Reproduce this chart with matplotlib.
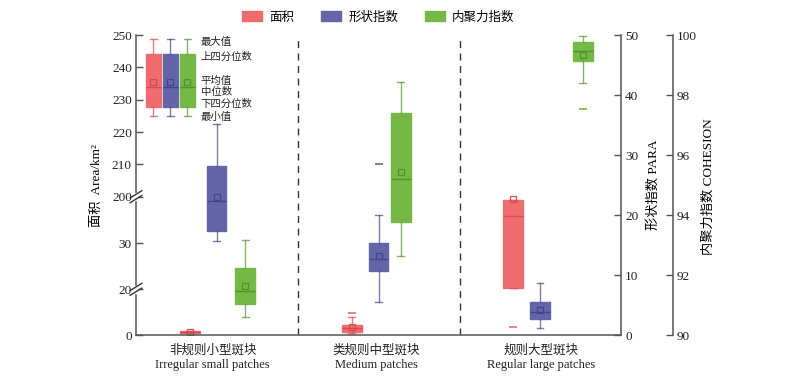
"""Box plots of patch area / PARA / COHESION for three patch types."""
import numpy as np
import matplotlib
matplotlib.use("Agg")
import matplotlib.pyplot as plt
from matplotlib.patches import Patch

plt.rcParams['font.family'] = ['Liberation Serif', 'Noto Sans CJK SC']

groups = ['非规则小型斑块\nIrregular small patches',
          '类规则中型斑块\nMedium patches',
          '规则大型斑块\nRegular large patches']

# 面积 Area (km2)
area_min = [0.9, 0.9, 20.2]
area_q1 = [1.0, 1.45, 20.2]
area_med = [1.3, 2.9, 129.6]
area_mean = [1.3, 3.4, 190.5]
area_q3 = [1.6, 4.4, 188.0]
area_max = [1.8, 8.0, 188.0]
area_out = [[], [9.8], [3.6]]

# 形状指数 PARA
para_min = [15.7, 5.5, 1.1]
para_q1 = [17.4, 10.7, 2.67]
para_med = [22.3, 12.7, 3.78]
para_mean = [23.05, 13.2, 4.17]
para_q3 = [28.2, 15.4, 5.5]
para_max = [35.1, 20.05, 8.6]
para_out = [[], [28.5], []]

# 内聚力指数 COHESION
coh_min = [90.59, 92.62, 98.41]
coh_q1 = [91.04, 93.77, 99.13]
coh_med = [91.48, 95.19, 99.47]
coh_mean = [91.64, 95.43, 99.33]
coh_q3 = [92.24, 97.41, 99.76]
coh_max = [93.17, 98.44, 99.98]
coh_out = [[], [], [97.54]]

# explanatory key box (drawn on the area axis)
key_stats = [224.9, 227.8, 234.0, 235.5, 244.0, 248.7]
key_labels = ['最大值', '上四分位数', '平均值', '中位数', '下四分位数', '最小值']
key_label_y = [247.8, 243.3, 235.8, 232.3, 228.6, 224.7]

# layout
pos_red = [1.11, 4.45, 7.78]
pos_blue = [1.66, 5.0, 8.33]
pos_green = [2.25, 5.46, 9.21]
pos_key = [0.36, 0.71, 1.06]
group_x = [1.58, 4.95, 8.36]
sep_x = [3.35, 6.68]

RED, RED_D = '#ee6b6e', '#d24c50'
BLUE, BLUE_D = '#6465a6', '#44448c'
GREEN, GREEN_D = '#76b845', '#52922c'

# broken left axis: piecewise linear value -> pixel height
BRK_V = [0, 20, 30, 200, 250]
BRK_P = [0, 45.7, 91.7, 138.3, 300]


def _pw(v, xs, ys):
    v = np.asarray(v, float)
    out = np.interp(v, xs, ys)
    out = np.where(v < xs[0], ys[0] + (v - xs[0]) * (ys[1] - ys[0]) / (xs[1] - xs[0]), out)
    out = np.where(v > xs[-1], ys[-1] + (v - xs[-1]) * (ys[-1] - ys[-2]) / (xs[-1] - xs[-2]), out)
    return out


def fwd(v):
    return _pw(v, BRK_V, BRK_P)


def inv(p):
    return _pw(p, BRK_P, BRK_V)


def make_stats(lo, q1, med, mean, q3, hi, out):
    return [dict(whislo=a, q1=b, med=c, mean=d, q3=e, whishi=f, fliers=g)
            for a, b, c, d, e, f, g in zip(lo, q1, med, mean, q3, hi, out)]


def draw(axis, stats, pos, color, dark, width=0.41):
    axis.bxp(stats, positions=pos, widths=width, capwidths=0.14,
             patch_artist=True, showmeans=True, manage_ticks=False,
             boxprops=dict(facecolor=color, edgecolor=color, lw=1.0),
             medianprops=dict(color=dark, lw=1.0),
             whiskerprops=dict(color=dark, lw=1.0, alpha=0.7),
             capprops=dict(color=dark, lw=1.0, alpha=0.7),
             flierprops=dict(marker='_', markeredgecolor=color, markersize=6, mew=1.2),
             meanprops=dict(marker='s', markerfacecolor='none',
                            markeredgecolor=dark, markersize=4.5, mew=0.9))


fig = plt.figure(figsize=(8, 3.81), dpi=100)
ax = fig.add_axes([0.17, 0.1207, 0.6063, 0.7874])
ax2 = ax.twinx()
ax3 = ax.twinx()

ax.set_yscale('function', functions=(fwd, inv))
ax.set_ylim(0, 250)
ax.set_yticks([0, 20, 30, 200, 210, 220, 230, 240, 250])
ax.yaxis.set_minor_locator(matplotlib.ticker.NullLocator())
ax.set_xlim(0, 10)
ax2.set_ylim(0, 50)
ax2.set_yticks(range(0, 51, 10))
ax3.set_ylim(90, 100)
ax3.set_yticks(range(90, 101, 2))
ax3.spines['right'].set_position(('axes', 1.107))

spine_c = '#555555'
for a in (ax, ax2, ax3):
    a.spines['top'].set_visible(False)
    for s in a.spines.values():
        s.set_color(spine_c)
        s.set_linewidth(1.1)
    a.tick_params(axis='y', direction='in', length=5, width=1.0, color=spine_c,
                  labelsize=9.5, labelcolor='#222222', pad=3)
for a in (ax2, ax3):
    a.spines['left'].set_visible(False)
    a.spines['bottom'].set_visible(False)
ax.spines['right'].set_visible(False)

ax.set_xticks(group_x)
ax.set_xticklabels(groups, fontsize=9, linespacing=1.2, color='#222222')
ax.tick_params(axis='x', length=0, pad=7)

for x in sep_x:
    ax.axvline(x, color='#333333', lw=1.0, ls=(0, (5, 4)), zorder=0)

# data boxes
draw(ax, make_stats(area_min, area_q1, area_med, area_mean, area_q3, area_max, area_out),
     pos_red, RED, RED_D)
draw(ax2, make_stats(para_min, para_q1, para_med, para_mean, para_q3, para_max, para_out),
     pos_blue, BLUE, BLUE_D)
draw(ax3, make_stats(coh_min, coh_q1, coh_med, coh_mean, coh_q3, coh_max, coh_out),
     pos_green, GREEN, GREEN_D)

# key boxes
k = make_stats(*[[v] for v in key_stats], [[]])
for p, c, d in zip(pos_key, (RED, BLUE, GREEN), (RED_D, BLUE_D, GREEN_D)):
    draw(ax, k, [p], c, d, width=0.31)
for lab, y in zip(key_labels, key_label_y):
    ax.text(1.33, y, lab, fontsize=7.5, va='center', ha='left', color='#222222')

# break marks on the left spine
for yb in (20, 200):
    ya = float(fwd(yb)) / 300.0
    g = 0.008
    ax.plot([0, 0], [ya - g, ya + g], color='white', lw=2.5,
            transform=ax.transAxes, clip_on=False, zorder=5)
    for dy in (-g, g):
        ax.plot([-0.012, 0.012], [ya + dy - 0.012, ya + dy + 0.012], color='#333333',
                lw=1.0, transform=ax.transAxes, clip_on=False, zorder=6)

fig.text(0.121, 0.514, '面积  Area/km²', rotation=90, ha='center', va='center', fontsize=9.5)
fig.text(0.816, 0.514, '形状指数 PARA', rotation=90, ha='center', va='center', fontsize=9.5)
fig.text(0.885, 0.51, '内聚力指数 COHESION', rotation=90, ha='center', va='center', fontsize=9.5)

handles = [Patch(facecolor=RED, edgecolor=RED, label='面积'),
           Patch(facecolor=BLUE, edgecolor=BLUE, label='形状指数'),
           Patch(facecolor=GREEN, edgecolor=GREEN, label='内聚力指数')]
fig.legend(handles=handles, loc='center', bbox_to_anchor=(0.473, 0.954), ncol=3,
           frameon=False, fontsize=9, handlelength=1.6, handleheight=0.8,
           columnspacing=2.1, handletextpad=0.6)

fig.savefig('out.png', dpi=100)
